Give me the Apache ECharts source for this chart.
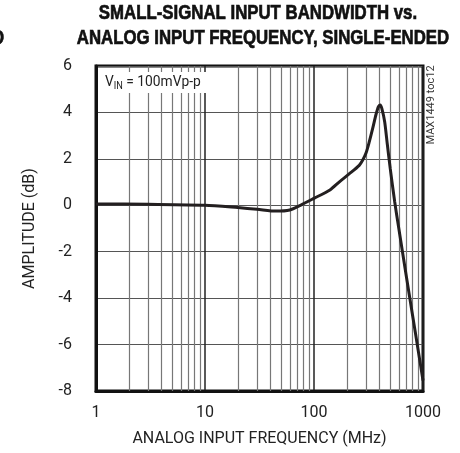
<!DOCTYPE html>
<html>
<head>
<meta charset="utf-8">
<script src="https://cdn.jsdelivr.net/npm/echarts@6/dist/echarts.min.js"></script>
<style>
  html, body { margin: 0; padding: 0; background: #fff; }
  #chart { width: 460px; height: 453px; }
</style>
</head>
<body>
<div id="chart"></div>
<script>
const freqMHz = [1, 3, 10, 20, 30, 45, 60, 75, 100, 140, 170, 210, 260, 280, 300, 320, 345, 370, 390, 405, 420, 445, 470, 500, 550, 600, 700, 800, 900, 1000]
const ampDb = [0.06, 0.04, 0.0, -0.1, -0.17, -0.25, -0.2, 0.0, 0.3, 0.66, 1.0, 1.35, 1.72, 1.95, 2.25, 2.7, 3.3, 3.9, 4.25, 4.32, 4.15, 3.6, 2.65, 1.6, 0.15, -1.0, -3.0, -4.7, -6.2, -7.55]
// minor grid lines (2..9 of each decade)
const minorFreqs = [2, 3, 4, 5, 6, 7, 8, 9, 20, 30, 40, 50, 60, 70, 80, 90, 200, 300, 400, 500, 600, 700, 800, 900]
const yTicks = [-8, -6, -4, -2, 0, 2, 4, 6]

const font = 'Roboto, "Liberation Sans", sans-serif'
const titleFont = '"Liberation Sans", Arial, sans-serif'

const chart = echarts.init(document.getElementById('chart'))

const option = {
  backgroundColor: '#fff',
  animation: false,
  grid: {
    left: 96,
    right: 37,
    top: 66,
    bottom: 62,
    show: true,
    borderColor: '#111',
    borderWidth: 3
  },
  xAxis: {
    type: 'log',
    logBase: 10,
    min: 1,
    max: 1000,
    name: 'ANALOG INPUT FREQUENCY (MHz)',
    nameLocation: 'middle',
    nameGap: 40,
    nameTextStyle: { fontFamily: font, fontSize: 16, color: '#222' },
    axisLine: { show: true, onZero: false, lineStyle: { color: '#111', width: 3 } },
    axisTick: { show: false },
    axisLabel: {
      fontFamily: font,
      fontSize: 16,
      color: '#222',
      margin: 14,
      formatter: (v) => String(Math.round(v))
    },
    splitLine: { show: true, lineStyle: { color: '#222', width: 1.5 } }
  },
  yAxis: {
    type: 'value',
    min: yTicks[0],
    max: yTicks[yTicks.length - 1],
    interval: 2,
    name: 'AMPLITUDE (dB)',
    nameLocation: 'middle',
    nameGap: 58,
    nameTextStyle: { fontFamily: font, fontSize: 16, color: '#222' },
    axisLine: { show: true, onZero: false, lineStyle: { color: '#111', width: 3 } },
    axisTick: { show: false },
    axisLabel: { fontFamily: font, fontSize: 16, color: '#222', margin: 24 },
    splitLine: { show: true, lineStyle: { color: '#555', width: 1.2 } }
  },
  series: [
    {
      type: 'line',
      data: [],
      markLine: {
        silent: true,
        symbol: 'none',
        label: { show: false },
        lineStyle: { color: '#777', width: 1.2, type: 'solid' },
        data: minorFreqs.map((f) => ({ xAxis: f }))
      },
      z: 1
    },
    {
      type: 'line',
      data: freqMHz.map((f, i) => [f, ampDb[i]]),
      smooth: 0.25,
      showSymbol: false,
      lineStyle: { color: '#231f20', width: 3 },
      z: 5
    }
  ],
  graphic: [
    {
      type: 'rect',
      shape: { x: 98, y: 72, width: 108, height: 21 },
      style: { fill: '#fff' },
      z: 10
    },
    {
      type: 'text',
      x: 105,
      y: 82,
      scaleX: 0.92,
      z: 11,
      style: {
        text: '{v|V}{s|IN}{v| = 100mVp-p}',
        verticalAlign: 'middle',
        rich: {
          v: { fontFamily: font, fontSize: 15, fill: '#222' },
          s: { fontFamily: font, fontSize: 10, fill: '#222', padding: [8, 0, 0, 0] }
        }
      }
    },
    {
      type: 'text',
      x: 258,
      y: 13,
      scaleX: 0.8,
      style: {
        text: 'SMALL-SIGNAL INPUT BANDWIDTH vs.',
        align: 'center',
        verticalAlign: 'middle',
        fontFamily: titleFont,
        fontWeight: 'bold',
        fontSize: 21,
        fill: '#111',
        stroke: '#111',
        lineWidth: 0.7
      }
    },
    {
      type: 'text',
      x: 263,
      y: 38,
      scaleX: 0.8,
      style: {
        text: 'ANALOG INPUT FREQUENCY, SINGLE-ENDED',
        align: 'center',
        verticalAlign: 'middle',
        fontFamily: titleFont,
        fontWeight: 'bold',
        fontSize: 21,
        fill: '#111',
        stroke: '#111',
        lineWidth: 0.7
      }
    },
    {
      type: 'text',
      x: -8,
      y: 38,
      scaleX: 0.8,
      style: {
        text: 'D',
        verticalAlign: 'middle',
        fontFamily: titleFont,
        fontWeight: 'bold',
        fontSize: 21,
        fill: '#111',
        stroke: '#111',
        lineWidth: 0.7
      }
    },
    {
      type: 'text',
      x: 431,
      y: 105,
      rotation: Math.PI / 2,
      style: {
        text: 'MAX1449 toc12',
        align: 'center',
        verticalAlign: 'middle',
        fontFamily: font,
        fontSize: 11,
        fill: '#333'
      }
    }
  ]
}

chart.setOption(option)
</script>
</body>
</html>
